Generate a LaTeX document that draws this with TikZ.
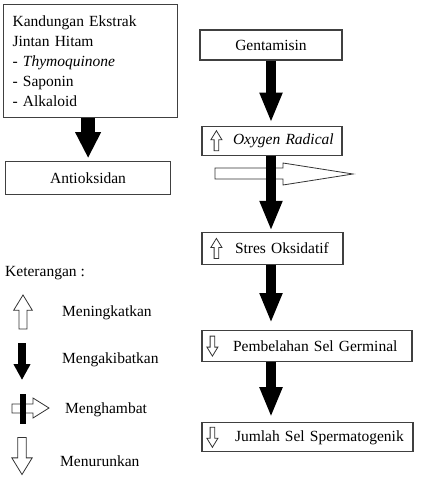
\documentclass[tikz,border=0pt]{standalone}
\usepackage{fontspec}
\setmainfont{Liberation Serif}
\usepackage{tikz}
\usetikzlibrary{arrows.meta}
\usetikzlibrary{positioning}
\tikzset{
  % Common styles for the scheme
  hollow/.style={draw=black!80, line width=0.8pt, fill=white, line join=miter},
  uparrow/.pic={
    \path[hollow] (0,-10) -- (5.5,-1) -- (2.3,-1) -- (2.3,10) -- (-2.3,10) -- (-2.3,-1) -- (-5.5,-1) -- cycle;
  }
}

\begin{document}
\begin{tikzpicture}[x=1pt, y=-1pt, font=\fontsize{15.5}{20}\selectfont]
    % Define styles
    \tikzstyle{block} = [rectangle, draw=black!75, line width=1.2pt, fill=white, inner sep=2pt]
    \tikzstyle{causes} = [draw, line width=10pt, -{Triangle[width=21pt, length=30pt]}]
    \tikzstyle{legend} = [anchor=west, inner sep=0pt]
    \useasboundingbox (0,0) rectangle (420,478);

    % Place nodes
    \node [block, text width=156pt, inner xsep=9pt, minimum height=113pt, align=left, anchor=north west] (kandungan) at (3,4) {Kandungan Ekstrak\\Jintan Hitam\\- \textit{Thymoquinone}\\- Saponin\\- Alkaloid};
    \node [block, minimum width=165pt, minimum height=33pt, below right=43pt and 2pt of kandungan.south west] (antioksidan) {Antioksidan};
    \node [block, minimum width=142pt, minimum height=30pt] (gentamisin) at (271,45) {Gentamisin};
    \node [block, text width=136pt, minimum height=29pt, align=left, below right=65pt and 2pt of gentamisin.south west] (oxygen) {\hspace*{29pt}\textit{Oxygen Radical}};
    \node [block, text width=137pt, minimum height=32pt, align=left, below right=76pt and 0pt of oxygen.south west] (stres) {\hspace*{31pt}Stres Oksidatif};
    \node [block, text width=206pt, minimum height=31pt, align=left, below right=65pt and 0pt of stres.south west] (pembelahan) {\hspace*{29pt}Pembelahan Sel Germinal};
    \node [block, text width=207pt, minimum height=29pt, align=left, below right=60pt and 0pt of pembelahan.south west] (jumlah) {\hspace*{31pt}Jumlah Sel Spermatogenik};

    % Icons in the boxes
    \pic at ([xshift=15pt]oxygen.west) {uparrow};
    \pic at ([xshift=15pt]stres.west) {uparrow};
    \pic[rotate=180] at ([xshift=11pt]pembelahan.west) {uparrow};
    \pic[rotate=180] at ([xshift=11pt]jumlah.west) {uparrow};

    % Inhibition by the antioxidant
    \path [hollow] (215,168) -- (283,168) -- (283,163) -- (353,174) -- (283,185) -- (283,179) -- (215,179) -- cycle;

    % Draw edges
    \path [causes, line width=14pt, -{Triangle[width=24pt, length=26pt]}, shorten >=3pt] (kandungan.south -| antioksidan.north) -- (antioksidan.north);
    \path [causes, shorten >=3pt] (gentamisin.south) -- (oxygen.north -| gentamisin.south);
    \path [causes, shorten >=1pt] (oxygen.south -| gentamisin.south) -- (stres.north -| gentamisin.south);
    \path [causes, shorten >=7pt] (stres.south -| gentamisin.south) -- (pembelahan.north -| gentamisin.south);
    \path [causes, shorten >=5pt] (pembelahan.south -| gentamisin.south) -- (jumlah.north -| gentamisin.south);

    % Legend
    \node [legend] (keterangan) at (5,273) {Keterangan :};
    \pic[scale=1.7] at (23,312) {uparrow};
    \node [legend] (naik) at (62,313) {Meningkatkan};
    \path [causes, line width=8pt, -{Triangle[width=16pt, length=16pt]}] (22,343) -- (22,380);
    \node [legend] (akibat) at (62,360) {Mengakibatkan};
    \path [hollow] (12,404) -- (33,404) -- (33,398) -- (49,408) -- (33,418) -- (33,413) -- (12,413) -- cycle;
    \fill (20,394) rectangle (26,424);
    \node [legend] (hambat) at (65,410) {Menghambat};
    \pic[scale=1.85, rotate=180] at (22,456) {uparrow};
    \node [legend] (turun) at (60,461) {Menurunkan};
\end{tikzpicture}
\end{document}
